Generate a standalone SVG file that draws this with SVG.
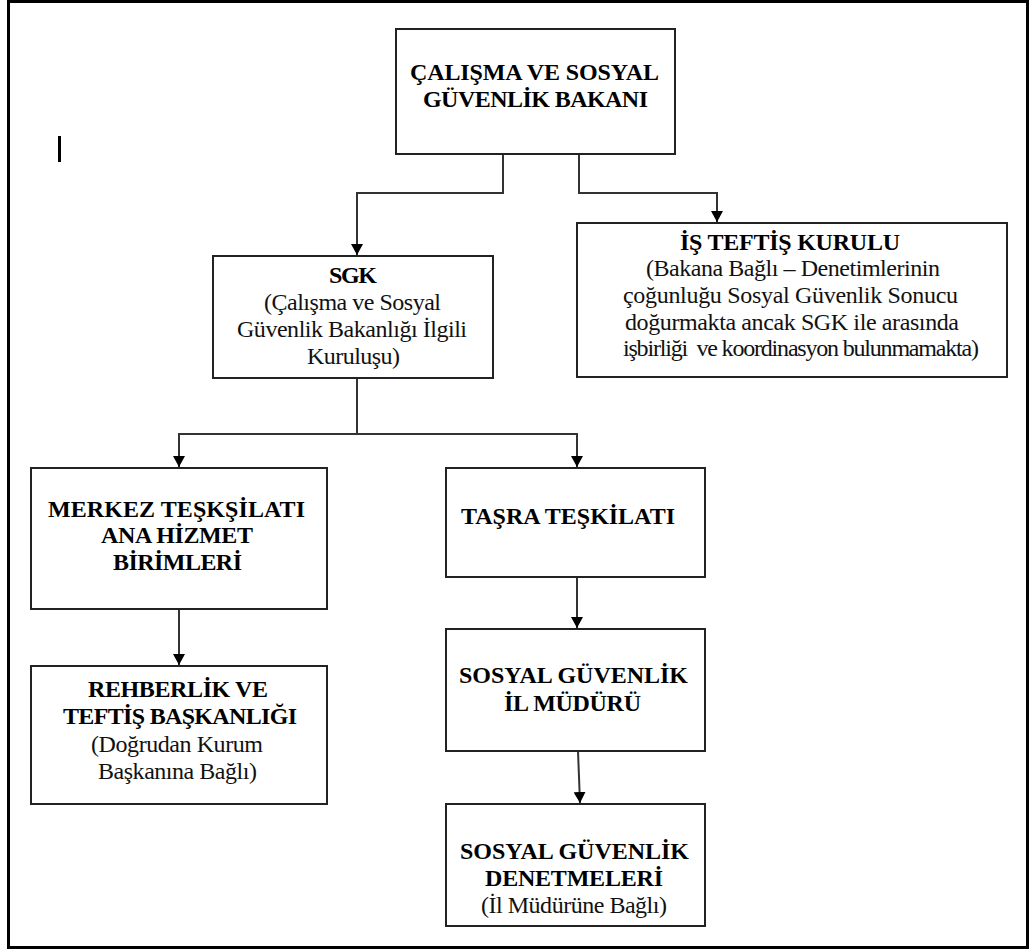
<svg xmlns="http://www.w3.org/2000/svg" width="1032" height="951" viewBox="0 0 1032 951">
<style>
.box{fill:#fff;stroke:#222;stroke-width:2}
.b{font-family:'Liberation Serif','DejaVu Serif',serif;font-weight:bold;font-size:24px;fill:#000}
.r{font-family:'Liberation Serif','DejaVu Serif',serif;font-size:24px;fill:#111}
.c{fill:none;stroke:#333;stroke-width:2}
</style>
<defs>
<marker id="ah" markerUnits="userSpaceOnUse" markerWidth="12" markerHeight="12" refX="11" refY="6" orient="auto">
<path d="M0,0 L11,6 L0,12 z" fill="#000"/>
</marker>
</defs>
<rect x="0" y="0" width="1032" height="951" fill="#fff"/>
<rect x="8.5" y="1.5" width="1019" height="946" fill="none" stroke="#000" stroke-width="3"/>
<rect x="58" y="136" width="3" height="26" fill="#000"/>

<g id="connectors">
<path class="c" d="M503,154 V193 H357 V255" marker-end="url(#ah)"/>
<path class="c" d="M579,154 V193 H717 V222" marker-end="url(#ah)"/>
<path class="c" d="M357,378 V434 H179 V467" marker-end="url(#ah)"/>
<path class="c" d="M357,434 H577 V467" marker-end="url(#ah)"/>
<path class="c" d="M179,609 V665" marker-end="url(#ah)"/>
<path class="c" d="M577,577 V628" marker-end="url(#ah)"/>
<path class="c" d="M578,751 L580,803" marker-end="url(#ah)"/>
</g>

<g id="bakan">
<rect class="box" x="396" y="29" width="279" height="125"/>
<text class="b" x="410" y="80" textLength="249" lengthAdjust="spacing">ÇALIŞMA VE SOSYAL</text>
<text class="b" x="423" y="107" textLength="225" lengthAdjust="spacing">GÜVENLİK BAKANI</text>
</g>

<g id="isteftis">
<rect class="box" x="577" y="223" width="430" height="154"/>
<text class="b" x="680" y="250" textLength="220" lengthAdjust="spacing">İŞ TEFTİŞ KURULU</text>
<text class="r" x="646" y="276" textLength="294" lengthAdjust="spacing">(Bakana Bağlı – Denetimlerinin</text>
<text class="r" x="623" y="303" textLength="335" lengthAdjust="spacing">çoğunluğu Sosyal Güvenlik Sonucu</text>
<text class="r" x="625" y="330" textLength="334" lengthAdjust="spacing">doğurmakta ancak SGK ile arasında</text>
<text class="r" x="623" y="356" textLength="356" lengthAdjust="spacing" xml:space="preserve">işbirliği  ve koordinasyon bulunmamakta)</text>
</g>

<g id="sgk">
<rect class="box" x="213" y="256" width="280" height="122"/>
<text class="b" x="329" y="283" textLength="48" lengthAdjust="spacing">SGK</text>
<text class="r" x="264" y="310" textLength="177" lengthAdjust="spacing">(Çalışma ve Sosyal</text>
<text class="r" x="237" y="337" textLength="230" lengthAdjust="spacing">Güvenlik Bakanlığı İlgili</text>
<text class="r" x="307" y="364" textLength="93" lengthAdjust="spacing">Kuruluşu)</text>
</g>

<g id="merkez">
<rect class="box" x="31" y="468" width="296" height="141"/>
<text class="b" x="48" y="517" textLength="257" lengthAdjust="spacing">MERKEZ TEŞKŞİLATI</text>
<text class="b" x="101" y="543" textLength="152" lengthAdjust="spacing">ANA HİZMET</text>
<text class="b" x="113" y="570" textLength="129" lengthAdjust="spacing">BİRİMLERİ</text>
</g>

<g id="rehberlik">
<rect class="box" x="31" y="666" width="296" height="138"/>
<text class="b" x="88" y="697" textLength="180" lengthAdjust="spacing">REHBERLİK VE</text>
<text class="b" x="63" y="724" textLength="234" lengthAdjust="spacing">TEFTİŞ BAŞKANLIĞI</text>
<text class="r" x="91" y="752" textLength="172" lengthAdjust="spacing">(Doğrudan Kurum</text>
<text class="r" x="98" y="779" textLength="159" lengthAdjust="spacing">Başkanına Bağlı)</text>
</g>

<g id="tasra">
<rect class="box" x="446" y="468" width="259" height="109"/>
<text class="b" x="461" y="524" textLength="214" lengthAdjust="spacing">TAŞRA TEŞKİLATI</text>
</g>

<g id="ilmudur">
<rect class="box" x="446" y="629" width="259" height="122"/>
<text class="b" x="459" y="683" textLength="229" lengthAdjust="spacing">SOSYAL GÜVENLİK</text>
<text class="b" x="504" y="711" textLength="137" lengthAdjust="spacing">İL MÜDÜRÜ</text>
</g>

<g id="denetmen">
<rect class="box" x="446" y="804" width="259" height="122"/>
<text class="b" x="460" y="859" textLength="229" lengthAdjust="spacing">SOSYAL GÜVENLİK</text>
<text class="b" x="485" y="886" textLength="178" lengthAdjust="spacing">DENETMELERİ</text>
<text class="r" x="481" y="913" textLength="186" lengthAdjust="spacing">(İl Müdürüne Bağlı)</text>
</g>
</svg>
